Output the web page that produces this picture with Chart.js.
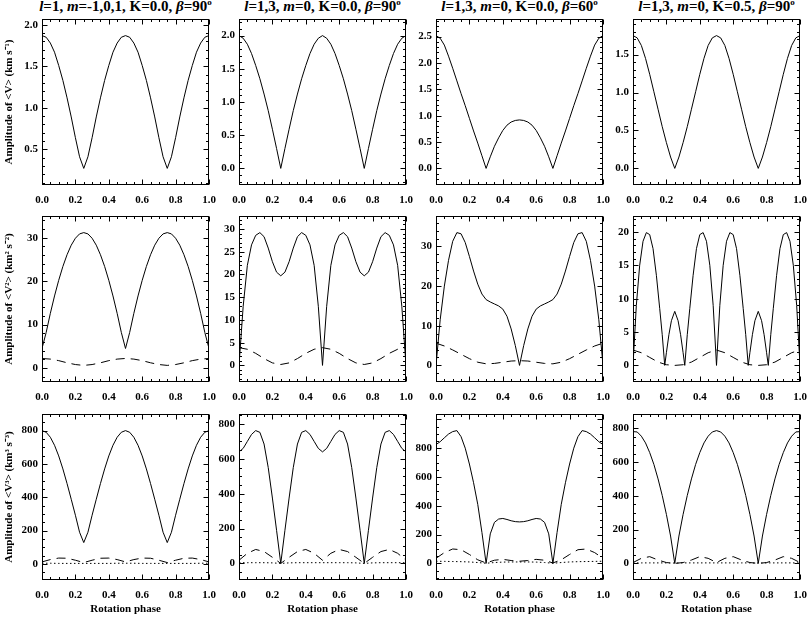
<!DOCTYPE html>
<html>
<head>
<meta charset="utf-8">
<script src="https://cdn.jsdelivr.net/npm/chart.js@4.4.0/dist/chart.umd.min.js"></script>
<style>
  body { margin: 0; background: #fff; width: 809px; height: 617px; position: relative; overflow: hidden; }
  canvas { position: absolute; }
  .coltitle { position: absolute; top: -2px; line-height: 18px; font: bold 15px "Liberation Serif", serif; white-space: nowrap; transform: translateX(-50%); color: #000; }
  .coltitle sup { font-size: 9px; vertical-align: 6px; line-height: 0; }
</style>
</head>
<body>
<script>
// phase grids
const phase41 = [0,0.025,0.05,0.075,0.1,0.125,0.15,0.175,0.2,0.225,0.25,0.275,0.3,0.325,0.35,0.375,0.4,0.425,0.45,0.475,0.5,0.525,0.55,0.575,0.6,0.625,0.65,0.675,0.7,0.725,0.75,0.775,0.8,0.825,0.85,0.875,0.9,0.925,0.95,0.975,1];
const phase21 = [0,0.05,0.1,0.15,0.2,0.25,0.3,0.35,0.4,0.45,0.5,0.55,0.6,0.65,0.7,0.75,0.8,0.85,0.9,0.95,1];
const phaseR2C4 = [0,0.02,0.04,0.06,0.08,0.1,0.12,0.14,0.16,0.175,0.19,0.2,0.215,0.23,0.25,0.27,0.285,0.3,0.31,0.325,0.34,0.36,0.38,0.4,0.42,0.44,0.46,0.48,0.5,
  0.52,0.54,0.56,0.58,0.6,0.62,0.64,0.66,0.675,0.69,0.7,0.715,0.73,0.75,0.77,0.785,0.8,0.81,0.825,0.84,0.86,0.88,0.9,0.92,0.94,0.96,0.98,1];

// row 1 : amplitude of <V>
const r1c1Solid = [1.87,1.85,1.78,1.67,1.51,1.33,1.12,0.89,0.64,0.41,0.27,0.41,0.64,0.89,1.12,1.33,1.51,1.67,1.78,1.85,1.87,1.85,1.78,1.67,1.51,1.33,1.12,0.89,0.64,0.41,0.27,0.41,0.64,0.89,1.12,1.33,1.51,1.67,1.78,1.85,1.87];
const r1c2Solid = [2.0,1.96,1.87,1.73,1.55,1.35,1.12,0.87,0.59,0.30,0,0.30,0.59,0.87,1.12,1.35,1.55,1.73,1.87,1.96,2.0,1.96,1.87,1.73,1.55,1.35,1.12,0.87,0.59,0.30,0,0.30,0.59,0.87,1.12,1.35,1.55,1.73,1.87,1.96,2.0];
const r1c3Solid = [2.52,2.47,2.34,2.13,1.9,1.66,1.42,1.19,0.95,0.71,0.48,0.24,0,0.22,0.42,0.58,0.72,0.82,0.88,0.91,0.92,0.91,0.88,0.82,0.72,0.58,0.42,0.22,0,0.24,0.48,0.71,0.95,1.19,1.42,1.66,1.9,2.13,2.34,2.47,2.52];
const r1c4Solid = [1.75,1.72,1.62,1.45,1.24,1.01,0.78,0.55,0.34,0.15,0,0.15,0.34,0.55,0.78,1.01,1.24,1.45,1.62,1.72,1.75,1.72,1.62,1.45,1.24,1.01,0.78,0.55,0.34,0.15,0,0.15,0.34,0.55,0.78,1.01,1.24,1.45,1.62,1.72,1.75];

// row 2 : amplitude of <V^2>
const r2c1Solid = [4.5,8.2,12.6,16.6,20.2,23.4,26.1,28.3,29.9,30.9,31.2,30.9,29.9,28.3,26.1,23.4,20.2,16.6,12.6,8.2,4.5,8.2,12.6,16.6,20.2,23.4,26.1,28.3,29.9,30.9,31.2,30.9,29.9,28.3,26.1,23.4,20.2,16.6,12.6,8.2,4.5];
const r2c1Dash = [2.2,2.05,1.7,1.2,0.8,0.6,0.8,1.2,1.7,2.05,2.2,2.05,1.7,1.2,0.8,0.6,0.8,1.2,1.7,2.05,2.2];
const r2c2Solid = [0,13,22,26.5,28.6,29.2,28.3,25.8,22.8,20.5,19.7,20.5,22.8,25.8,28.3,29.2,28.6,26.5,22,13,0,13,22,26.5,28.6,29.2,28.3,25.8,22.8,20.5,19.7,20.5,22.8,25.8,28.3,29.2,28.6,26.5,22,13,0];
const r2c2Dash = [3.9,3.55,2.65,1.5,0.55,0.2,0.55,1.5,2.65,3.55,3.9,3.55,2.65,1.5,0.55,0.2,0.55,1.5,2.65,3.55,3.9];
const r2c3Solid = [0,11.5,20,26.5,31.3,33.5,33.2,31,27.5,23.8,20.5,18,16.6,16,15.5,15,14.2,12.4,9.2,5,0,5,9.2,12.4,14.2,15,15.5,16,16.6,18,20.5,23.8,27.5,31,33.2,33.5,31.3,26.5,20,11.5,0];
const r2c3Dash = [5.6,4.9,3.9,2.8,1.7,0.8,0.4,0.5,0.8,1.1,1.2,1.1,0.8,0.5,0.4,0.8,1.7,2.8,3.9,4.9,5.6];
const r2c4Solid = [0,9,15,18.6,19.9,19.6,17.5,13.5,8.5,4.6,0,1.9,4.6,6.7,8.1,6.7,4.6,1.9,0,4.6,8.5,13.5,17.5,19.6,19.9,18.6,15,9,0,
  9,15,18.6,19.9,19.6,17.5,13.5,8.5,4.6,0,1.9,4.6,6.7,8.1,6.7,4.6,1.9,0,4.6,8.5,13.5,17.5,19.6,19.9,18.6,15,9,0];
const r2c4Dash = [2.3,1.9,1.2,0.5,0.1,0,0.1,0.5,1.2,1.9,2.3,1.9,1.2,0.5,0.1,0,0.1,0.5,1.2,1.9,2.3];

// row 3 : amplitude of <V^3>
const r3c1Solid = [800,790,760,712,648,570,482,388,292,190,128,190,292,388,482,570,648,712,760,790,800,790,760,712,648,570,482,388,292,190,128,190,292,388,482,570,648,712,760,790,800];
const r3c1Dash = [12,26,35,34,22,8,22,34,35,26,12,26,35,34,22,8,22,34,35,26,12];
const r3c1Dot = [4,4,3,3,3,3,3,3,3,4,4,4,3,3,3,3,3,3,3,4,4];
const r3c2Solid = [640,660,700,740,762,752,685,550,375,190,0,190,375,550,685,752,762,740,700,660,640,660,700,740,762,752,685,550,375,190,0,190,375,550,685,752,762,740,700,660,640];
const r3c2Dash = [18,58,80,68,35,0,35,68,80,58,18,58,80,68,35,0,35,68,80,58,18];
const r3c2Dot = [4,4,4,4,3,0,3,4,4,4,4,4,4,4,3,0,3,4,4,4,4];
const r3c3Solid = [825,845,872,898,915,922,880,800,690,560,410,215,0,205,285,308,312,305,296,290,288,290,296,305,312,308,285,205,0,215,410,560,690,800,880,922,915,898,872,845,825];
const r3c3Dash = [35,75,100,95,62,25,3,22,28,20,15,20,28,22,3,25,62,95,100,75,35];
const r3c3Dot = [15,14,13,12,10,6,1,6,9,10,10,10,9,6,1,6,10,12,13,14,15];
const r3c4Solid = [780,778,753,713,656,586,500,402,290,162,0,162,290,402,500,586,656,713,753,778,786,778,753,713,656,586,500,402,290,162,0,162,290,402,500,586,656,713,753,778,780];
const r3c4Dash = [5,30,40,20,5,0,5,20,40,30,5,30,40,20,5,0,5,20,40,30,5];
const r3c4Dot = [3,3,3,3,3,2,3,3,3,3,3,3,3,3,3,2,3,3,3,3,3];

// labels
const colTitles = [
  '<i>l</i>=1, <i>m</i>=-1,0,1, K=0.0, <i>β</i>=90<sup>o</sup>',
  '<i>l</i>=1,3, <i>m</i>=0, K=0.0, <i>β</i>=90<sup>o</sup>',
  '<i>l</i>=1,3, <i>m</i>=0, K=0.0, <i>β</i>=60<sup>o</sup>',
  '<i>l</i>=1,3, <i>m</i>=0, K=0.5, <i>β</i>=90<sup>o</sup>'
];
const rowTitles = ['Amplitude of <V> (km s⁻¹)', 'Amplitude of <V²> (km² s⁻²)', 'Amplitude of <V³> (km³ s⁻³)'];
const xTitle = 'Rotation phase';

// per panel y ticks: [major step, minor step, decimals, highest labelled value]
const yTicks = [
  [[0.5, 0.1, 1, 2], [0.5, 0.1, 1, 2], [0.5, 0.1, 1, 2.5], [0.5, 0.1, 1, 1.5]],
  [[10, 2, 0, 30], [5, 1, 0, 30], [10, 2, 0, 30], [5, 1, 0, 20]],
  [[200, 50, 0, 800], [200, 50, 0, 800], [200, 50, 0, 800], [200, 50, 0, 800]]
];

const SOLID = [], DASH = [9, 6], DOT = [1.5, 2.5];

const panels = [
  [[phase41, r1c1Solid, SOLID]],
  [[phase41, r1c2Solid, SOLID]],
  [[phase41, r1c3Solid, SOLID]],
  [[phase41, r1c4Solid, SOLID]],
  [[phase41, r2c1Solid, SOLID], [phase21, r2c1Dash, DASH]],
  [[phase41, r2c2Solid, SOLID], [phase21, r2c2Dash, DASH]],
  [[phase41, r2c3Solid, SOLID], [phase21, r2c3Dash, DASH]],
  [[phaseR2C4, r2c4Solid, SOLID], [phase21, r2c4Dash, DASH]],
  [[phase41, r3c1Solid, SOLID], [phase21, r3c1Dash, DASH], [phase21, r3c1Dot, DOT]],
  [[phase41, r3c2Solid, SOLID], [phase21, r3c2Dash, DASH], [phase21, r3c2Dot, DOT]],
  [[phase41, r3c3Solid, SOLID], [phase21, r3c3Dash, DASH], [phase21, r3c3Dot, DOT]],
  [[phase41, r3c4Solid, SOLID], [phase21, r3c4Dash, DASH], [phase21, r3c4Dot, DOT]]
];

// page layout
const colLeft = [42, 239, 436, 633];
const rowTop = [19, 216, 414];
const boxW = 167, boxH = 166, padT = 4, padR = 10;
const serif = '"Liberation Serif", "Times New Roman", serif';

// ticks only at whole multiples of the step inside the range
function stepTicks(step, top) {
  return s => {
    const out = [];
    const k0 = Math.ceil(s.min / step - 1e-9), k1 = Math.floor(Math.min(s.max, top) / step + 1e-9);
    for (let k = k0; k <= k1; k++) out.push({ value: k * step });
    s.ticks = out;
  };
}

// box with inward major and minor ticks on all four sides
const frameTicks = {
  id: 'frameTicks',
  afterDraw(chart, args, opts) {
    const { ctx, chartArea: a, scales: { x, y } } = chart;
    const L = Math.round(a.left) + 0.5, R = Math.round(a.right) - 0.5;
    const T = Math.round(a.top) + 0.5, B = Math.round(a.bottom) - 0.5;
    ctx.save();
    ctx.strokeStyle = '#000';
    ctx.lineWidth = 1;
    ctx.strokeRect(L, T, R - L, B - T);
    ctx.beginPath();
    const isMajor = (v, step) => Math.abs(v / step - Math.round(v / step)) < 1e-6;
    for (let k = 0; k <= 20; k++) {
      const v = k * 0.05;
      const px = Math.round(x.getPixelForValue(v)) + 0.5;
      const len = isMajor(v, 0.2) ? 5 : 2.5;
      ctx.moveTo(px, B); ctx.lineTo(px, B - len);
      ctx.moveTo(px, T); ctx.lineTo(px, T + len);
    }
    const k0 = Math.ceil(y.min / opts.minor - 1e-9), k1 = Math.floor(y.max / opts.minor + 1e-9);
    for (let k = k0; k <= k1; k++) {
      const v = k * opts.minor;
      const py = Math.round(y.getPixelForValue(v)) + 0.5;
      const len = isMajor(v, opts.major) ? 5 : 2.5;
      ctx.moveTo(L, py); ctx.lineTo(L + len, py);
      ctx.moveTo(R, py); ctx.lineTo(R - len, py);
    }
    ctx.stroke();
    ctx.restore();
  }
};

colTitles.forEach((t, c) => {
  const d = document.createElement('div');
  d.className = 'coltitle';
  d.innerHTML = t;
  d.style.left = (colLeft[c] + boxW / 2) + 'px';
  document.body.appendChild(d);
});

panels.forEach((series, i) => {
  const row = Math.floor(i / 4), col = i % 4;
  const [major, minor, digits, labelTop] = yTicks[row][col];
  const yw = col === 0 ? 42 : 30;
  const xh = row === 2 ? 36 : 26;
  const w = yw + boxW + padR, h = padT + boxH + xh;

  const cv = document.createElement('canvas');
  cv.width = w; cv.height = h;
  cv.style.width = w + 'px'; cv.style.height = h + 'px';
  cv.style.left = (colLeft[col] - yw) + 'px';
  cv.style.top = (rowTop[row] - padT) + 'px';
  document.body.appendChild(cv);

  // axis range: data extent plus an eighth of the span on both sides
  const all = series.flatMap(s => s[1]);
  const lo = Math.min(...all), hi = Math.max(...all);
  const span = hi - lo;

  new Chart(cv, {
    type: 'line',
    data: {
      datasets: series.map(([xs, ys, dash]) => ({
        data: ys.map((v, j) => ({ x: xs[j], y: v })),
        borderColor: '#000',
        borderWidth: 1,
        borderDash: dash,
        pointRadius: 0,
        tension: 0,
        fill: false
      }))
    },
    options: {
      responsive: false,
      animation: false,
      events: [],
      layout: { padding: { top: padT, right: padR, left: 0, bottom: 0 } },
      plugins: {
        legend: { display: false },
        tooltip: { enabled: false },
        frameTicks: { major: major, minor: minor }
      },
      scales: {
        x: {
          type: 'linear',
          min: 0, max: 1,
          grid: { display: false, drawTicks: false },
          border: { display: false },
          ticks: {
            padding: 9, color: '#000', autoSkip: false, maxRotation: 0,
            font: { family: serif, size: 11, weight: 'bold' },
            callback: v => Number(v).toFixed(1)
          },
          afterBuildTicks: stepTicks(0.2, 1),
          title: {
            display: row === 2, text: xTitle, color: '#000',
            font: { family: serif, size: 11, weight: 'bold' },
            padding: { top: 0, bottom: 0 }
          },
          afterFit: s => { s.height = xh; s.paddingLeft = 0; s.paddingRight = 0; }
        },
        y: {
          min: lo - span / 8, max: hi + span / 8,
          grid: { display: false, drawTicks: false },
          border: { display: false },
          ticks: {
            padding: 4, color: '#000', autoSkip: false,
            font: { family: serif, size: 11, weight: 'bold' },
            callback: v => Number(v).toFixed(digits)
          },
          afterBuildTicks: stepTicks(major, labelTop),
          title: {
            display: col === 0, text: rowTitles[row], color: '#000',
            font: { family: serif, size: 11, weight: 'bold' },
            padding: { top: 3, bottom: 0 }
          },
          afterFit: s => { s.width = yw; s.paddingTop = 0; s.paddingBottom = 0; }
        }
      }
    },
    plugins: [frameTicks]
  });
});
</script>
</body>
</html>
